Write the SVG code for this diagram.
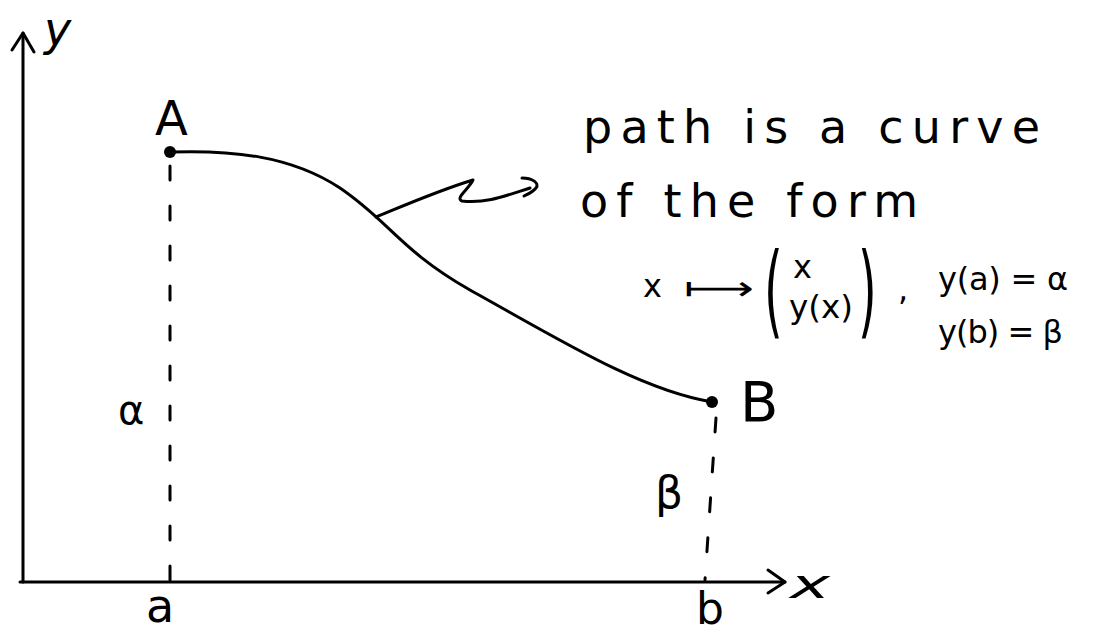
<svg xmlns="http://www.w3.org/2000/svg" width="1108" height="637" viewBox="0 0 1108 637">
<style>
  .ln{fill:none;stroke:#000;stroke-width:3;stroke-linecap:round;stroke-linejoin:round}
  .dash{fill:none;stroke:#000;stroke-width:3;stroke-linecap:round;stroke-dasharray:14 26}
  .t{font-family:"DejaVu Sans","Liberation Sans",sans-serif;fill:#000}
  .i{font-style:italic}
</style>
<rect width="1108" height="637" fill="#fff"/>
<g id="axes">
  <path class="ln" d="M23,582 V33"/>
  <path class="ln" d="M12,50 L23,33 L34,52"/>
  <path class="ln" d="M20,582 H785"/>
  <path class="ln" d="M768,570 L785,582 L768,593"/>
  <text class="t i" x="44" y="45" font-size="46">y</text>
  <text class="t i" x="790" y="598" font-size="40" textLength="40" lengthAdjust="spacingAndGlyphs">x</text>
  <text class="t" x="146" y="622" font-size="46">a</text>
  <text class="t" x="696" y="624" font-size="44">b</text>
</g>
<g id="connectors">
  <path id="curve" class="ln" d="M170,152 C230,150 290,155 340,188 C390,222 400,250 470,290 C560,340 640,390 712,402"/>
  <path class="dash" d="M170,166 V582"/>
  <path class="dash" d="M716,418 L705,580"/>
  <path id="squiggle" class="ln" d="M376,217 C410,203 440,190 473,180 C468,190 455,198 462,201 C485,204 505,196 530,188"/>
  <path class="ln" d="M522,178 C532,178 540,183 536,188 C533,192 528,194 524,196"/>
</g>
<g id="nodeA">
  <circle cx="170" cy="152" r="6"/>
  <text class="t" x="155" y="135" font-size="48">A</text>
  <text class="t" x="118" y="424" font-size="40">α</text>
</g>
<g id="nodeB">
  <circle cx="712" cy="402" r="6"/>
  <text class="t" x="740" y="421" font-size="56">B</text>
  <text class="t" x="655" y="508" font-size="44">β</text>
</g>
<g id="annotation">
  <text class="t" x="583" y="143" font-size="46" textLength="457" lengthAdjust="spacing">path is a curve</text>
  <text class="t" x="580" y="217" font-size="46" textLength="338" lengthAdjust="spacing">of the form</text>
  <text class="t" x="643" y="297" font-size="32">x</text>
  <text class="t" x="684" y="300" font-size="34" textLength="70" lengthAdjust="spacingAndGlyphs">⟼</text>
  <text class="t" x="0" y="0" font-size="48" transform="translate(764,325) scale(1,2.1)">(</text>
  <text class="t" x="0" y="0" font-size="48" transform="translate(858,325) scale(1,2.1)">)</text>
  <text class="t" x="793" y="278" font-size="32">x</text>
  <text class="t" x="789" y="318" font-size="32" textLength="64" lengthAdjust="spacingAndGlyphs">y(x)</text>
  <text class="t" x="898" y="300" font-size="32">,</text>
  <text class="t" x="938" y="290" font-size="32" textLength="130" lengthAdjust="spacing">y(a) = α</text>
  <text class="t" x="938" y="343" font-size="32" textLength="125" lengthAdjust="spacing">y(b) = β</text>
</g>
</svg>
